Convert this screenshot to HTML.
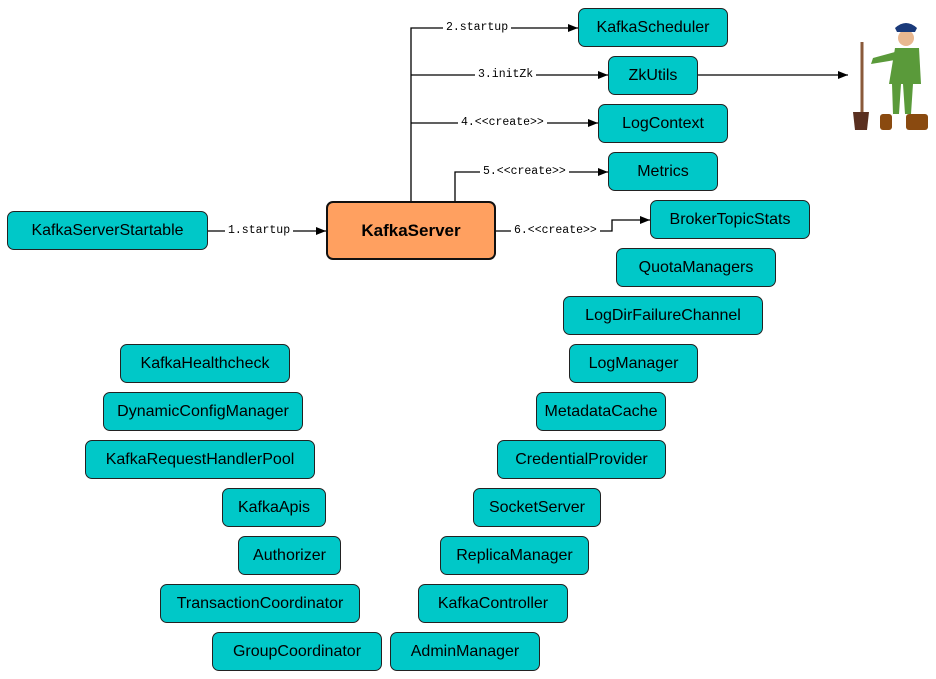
<!DOCTYPE html>
<html><head><style>
body{margin:0;width:936px;height:679px;background:#fff;position:relative;overflow:hidden;font-family:"Liberation Sans",sans-serif}
.b{position:absolute;box-sizing:border-box;background:#00c8c8;border:1px solid #222;border-radius:7px;display:flex;align-items:center;justify-content:center;font-size:16px;color:#000}
.l{position:absolute;font-family:"Liberation Mono",monospace;font-size:11.5px;background:#fff;padding:0 3px;line-height:14px}
svg{position:absolute;left:0;top:0}
</style></head><body>
<svg width="936" height="679">
<defs><marker id="a" markerWidth="10" markerHeight="8" refX="10" refY="4" orient="auto" markerUnits="userSpaceOnUse"><path d="M0,0L10,4L0,8z" fill="#000"/></marker></defs>
<g stroke="#000" stroke-width="1.3" fill="none">
<path d="M411,201V28H578" marker-end="url(#a)"/>
<path d="M411,75H608" marker-end="url(#a)"/>
<path d="M411,123H598" marker-end="url(#a)"/>
<path d="M455,201V172H608" marker-end="url(#a)"/>
<path d="M496,231H612V220H650" marker-end="url(#a)"/>
<path d="M208,231H326" marker-end="url(#a)"/>
<path d="M698,75H848" marker-end="url(#a)"/>
</g>
<g>
<line x1="862" y1="42" x2="862" y2="112" stroke="#8a5a3a" stroke-width="3"/>
<path d="M853,112h16l-2,18h-12z" fill="#5a3020"/>
<circle cx="906" cy="38" r="8" fill="#e9b890"/>
<path d="M895,28q11,-10 22,0l-2,4h-18z" fill="#1a3a7a"/>
<path d="M895,48h24l2,36h-8l-2,30h-6l-2,-30h-2l-2,30h-6l-1,-30h-3z" fill="#5a9a3a"/>
<path d="M895,52l-22,6l-2,6l24,-4z" fill="#5a9a3a"/>
<rect x="880" y="114" width="12" height="16" rx="3" fill="#8a4a10"/>
<rect x="906" y="114" width="22" height="16" rx="3" fill="#8a4a10"/>
</g>
</svg>
<div class="l" style="left:443px;top:21px">2.startup</div>
<div class="l" style="left:475px;top:68px">3.initZk</div>
<div class="l" style="left:458px;top:116px">4.&lt;&lt;create&gt;&gt;</div>
<div class="l" style="left:480px;top:165px">5.&lt;&lt;create&gt;&gt;</div>
<div class="l" style="left:511px;top:224px">6.&lt;&lt;create&gt;&gt;</div>
<div class="l" style="left:225px;top:224px">1.startup</div>
<div class="b" style="left:326px;top:201px;width:170px;height:59px;background:#ffa060;border:2px solid #111;font-weight:bold;font-size:17px">KafkaServer</div>
<div class="b" style="left:7px;top:211px;width:201px;height:39px">KafkaServerStartable</div>
<div class="b" style="left:578px;top:8px;width:150px;height:39px">KafkaScheduler</div>
<div class="b" style="left:608px;top:56px;width:90px;height:39px">ZkUtils</div>
<div class="b" style="left:598px;top:104px;width:130px;height:39px">LogContext</div>
<div class="b" style="left:608px;top:152px;width:110px;height:39px">Metrics</div>
<div class="b" style="left:650px;top:200px;width:160px;height:39px">BrokerTopicStats</div>
<div class="b" style="left:616px;top:248px;width:160px;height:39px">QuotaManagers</div>
<div class="b" style="left:563px;top:296px;width:200px;height:39px">LogDirFailureChannel</div>
<div class="b" style="left:569px;top:344px;width:129px;height:39px">LogManager</div>
<div class="b" style="left:536px;top:392px;width:130px;height:39px">MetadataCache</div>
<div class="b" style="left:497px;top:440px;width:169px;height:39px">CredentialProvider</div>
<div class="b" style="left:473px;top:488px;width:128px;height:39px">SocketServer</div>
<div class="b" style="left:440px;top:536px;width:149px;height:39px">ReplicaManager</div>
<div class="b" style="left:418px;top:584px;width:150px;height:39px">KafkaController</div>
<div class="b" style="left:390px;top:632px;width:150px;height:39px">AdminManager</div>
<div class="b" style="left:120px;top:344px;width:170px;height:39px">KafkaHealthcheck</div>
<div class="b" style="left:103px;top:392px;width:200px;height:39px">DynamicConfigManager</div>
<div class="b" style="left:85px;top:440px;width:230px;height:39px">KafkaRequestHandlerPool</div>
<div class="b" style="left:222px;top:488px;width:104px;height:39px">KafkaApis</div>
<div class="b" style="left:238px;top:536px;width:103px;height:39px">Authorizer</div>
<div class="b" style="left:160px;top:584px;width:200px;height:39px">TransactionCoordinator</div>
<div class="b" style="left:212px;top:632px;width:170px;height:39px">GroupCoordinator</div>
</body></html>
